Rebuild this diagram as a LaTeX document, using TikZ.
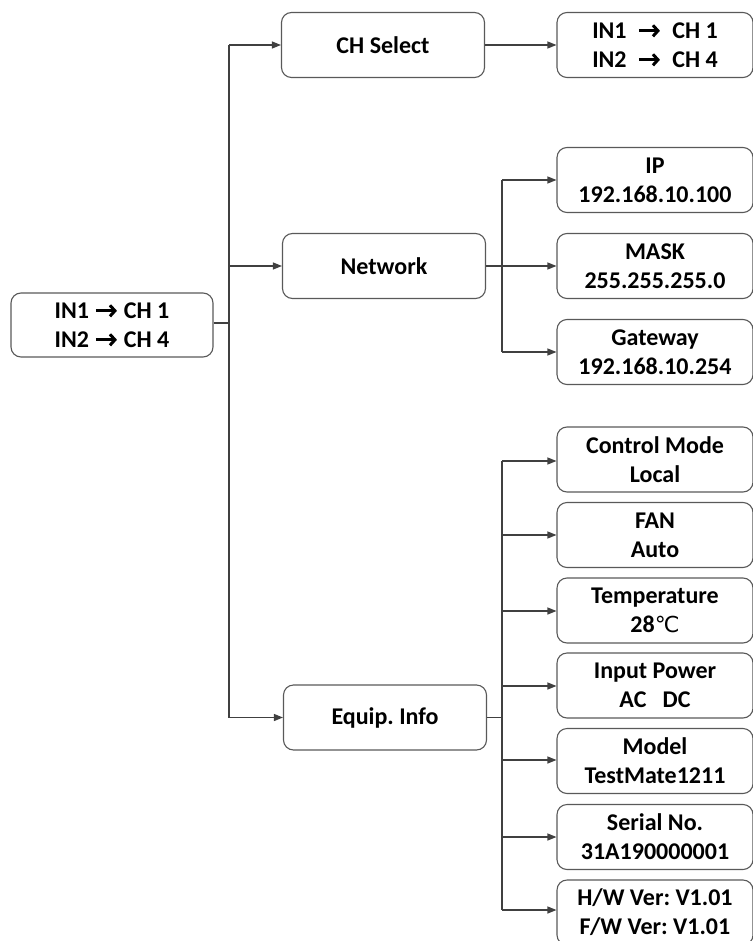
\documentclass[tikz,border=0pt]{standalone}
\usepackage{fontspec}
\setmainfont{Carlito}
\newfontfamily\symfont{DejaVu Sans}
\usetikzlibrary{arrows.meta}
\frenchspacing
\newcommand{\rarr}{\tikz[baseline=0pt,x=1pt,y=1pt]{\draw[line width=3pt,black,-{Straight Barb[length=5pt,width=11pt,line width=3pt]}] (0,7.5) -- (21,7.5);}}
\newcommand{\degc}{{\symfont\mdseries\fontsize{22pt}{22pt}\selectfont ℃}}
\begin{document}
\begin{tikzpicture}[x=1pt,y=-1pt,
  box/.style={draw=black!65, line width=1.1pt, rounded corners=10pt, align=center,
    font=\fontsize{24pt}{29pt}\selectfont\bfseries, inner sep=0pt},
  midbox/.style={box, minimum width=203pt, minimum height=65pt},
  rbox/.style={box, minimum width=196pt, minimum height=65pt},
  conn/.style={draw=black!75, line width=1.2pt},
  arr/.style={conn, -{Triangle[length=9pt,width=7pt]}}
]
\useasboundingbox (0,0) rectangle (752,941);
% root
\node[box, minimum width=202pt, minimum height=64pt] (root) at (112,325) {IN1 \rarr{} CH 1\\IN2 \rarr{} CH 4};
% middle column
\node[midbox] (chs) at (383,45) {CH Select};
\node[midbox] (net) at (384,266) {Network};
\node[midbox] (eq) at (385,717.5) {Equip. Info};
% right column
\node[rbox] (chr) at (655,45) {IN1\ \ \rarr{}\ \ CH 1\\IN2\ \ \rarr{}\ \ CH 4};
\node[rbox] (ip) at (655,180) {IP\\192.168.10.100};
\node[rbox] (mask) at (655,266) {MASK\\255.255.255.0};
\node[rbox] (gw) at (655,352) {Gateway\\192.168.10.254};
\node[rbox] (cm) at (655,459.5) {Control Mode\\Local};
\node[rbox] (fan) at (655,535) {FAN\\Auto};
\node[rbox] (tmp) at (655,610.5) {Temperature\\28\degc};
\node[rbox] (pw) at (655,685.5) {Input Power\\AC\ \ \ DC};
\node[rbox] (mdl) at (655,761) {Model\\TestMate1211};
\node[rbox] (sn) at (655,837) {Serial No.\\31A190000001};
\node[rbox] (ver) at (655,912.5) {H/W Ver: V1.01\\F/W Ver: V1.01};
% trunk
\coordinate (t0) at (229,323);
\draw[conn] (root.east |- t0) -- (t0);
\draw[conn] (229,45) -- (229,717.5);
\draw[arr] (229,45) -- (chs.west);
\draw[arr] (229,266) -- (net.west);
\draw[arr] (229,717.5) -- (eq.west);
\draw[arr] (chs.east) -- (chr.west);
% network branch
\coordinate (nb) at (502,266);
\draw[conn] (net.east) -- (nb);
\draw[conn] (502,180) -- (502,352);
\draw[arr] (502,180) -- (ip.west);
\draw[arr] (nb) -- (mask.west);
\draw[arr] (502,352) -- (gw.west);
% equip branch
\coordinate (eb) at (502,717.5);
\draw[conn] (eq.east) -- (eb);
\draw[conn] (502,461) -- (502,910);
\foreach \n/\y in {cm/461,fan/535,tmp/611,pw/686,mdl/760,sn/837,ver/910}
  \draw[arr] (502,\y) -- (\n.west |- 0,\y);
\end{tikzpicture}
\end{document}
